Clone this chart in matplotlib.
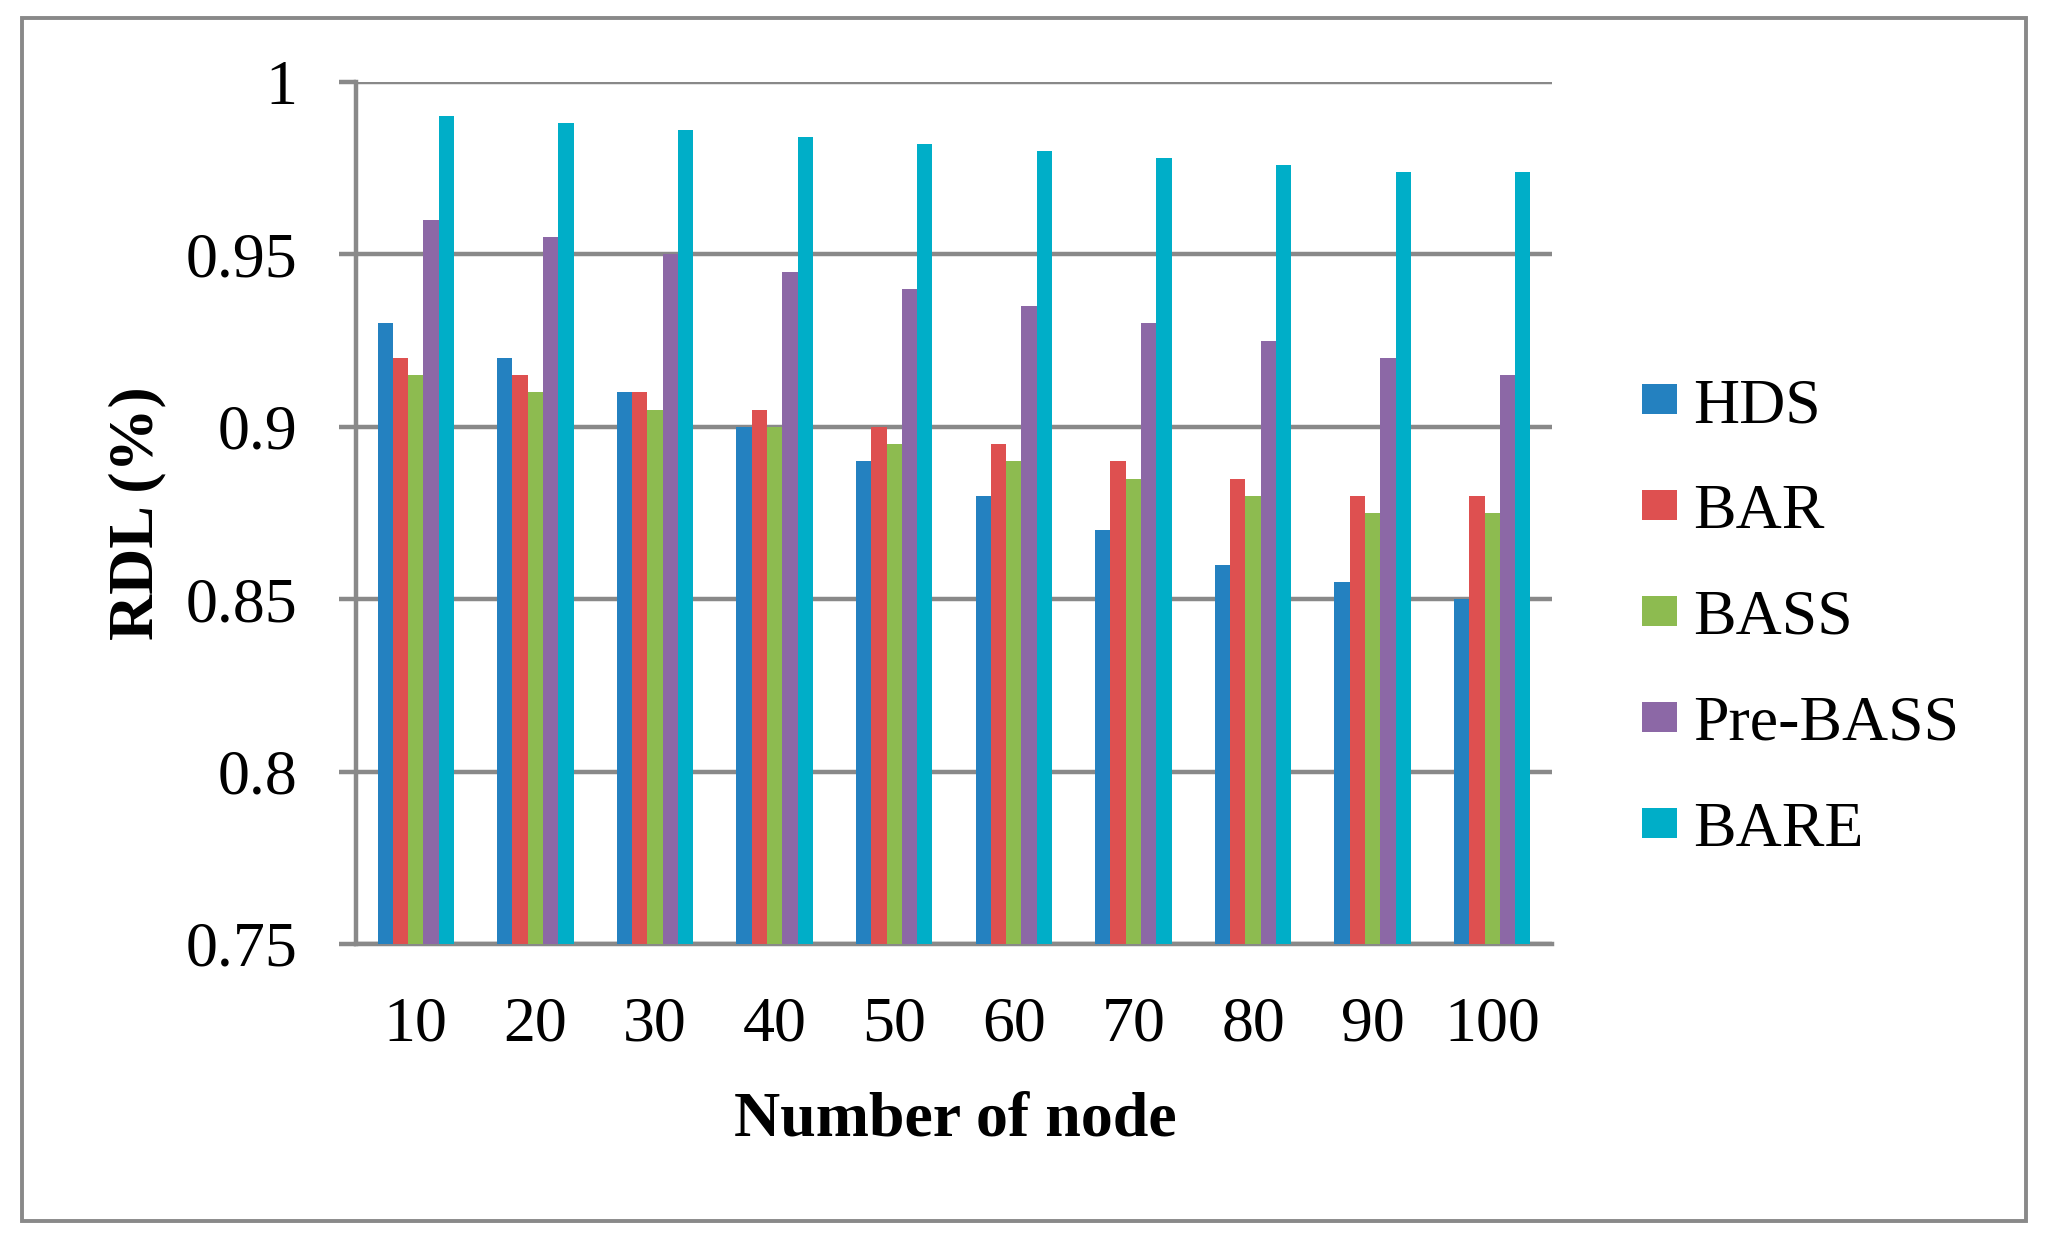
import matplotlib
matplotlib.use("Agg")
import matplotlib.pyplot as plt
from matplotlib.patches import Rectangle, Patch
import numpy as np

categories = ["10", "20", "30", "40", "50", "60", "70", "80", "90", "100"]
series_names = ["HDS", "BAR", "BASS", "Pre-BASS", "BARE"]
hds = [0.93, 0.92, 0.91, 0.90, 0.89, 0.88, 0.87, 0.86, 0.855, 0.85]
bar = [0.92, 0.915, 0.91, 0.905, 0.90, 0.895, 0.89, 0.885, 0.88, 0.88]
bass = [0.915, 0.91, 0.905, 0.90, 0.895, 0.89, 0.885, 0.88, 0.875, 0.875]
pre_bass = [0.96, 0.955, 0.95, 0.945, 0.94, 0.935, 0.93, 0.925, 0.92, 0.915]
bare = [0.99, 0.988, 0.986, 0.984, 0.982, 0.98, 0.978, 0.976, 0.974, 0.974]
yticks = [0.75, 0.8, 0.85, 0.9, 0.95, 1.0]
ytick_labels = ["0.75", "0.8", "0.85", "0.9", "0.95", "1"]

colors = ["#2481C0", "#DE5050", "#8DBB50", "#8C68A6", "#00AEC8"]
grid_gray = "#898989"

plt.rcParams['font.family'] = ['Liberation Serif', 'DejaVu Serif']

W, H = 2047, 1244
fig = plt.figure(figsize=(W / 100, H / 100), dpi=100)

# outer border
fig.patches.append(Rectangle((22 / W, 1 - 1221 / H), (2026 - 22) / W, (1221 - 18) / H,
                             transform=fig.transFigure, fill=False,
                             edgecolor=grid_gray, linewidth=2.8))

left, right, top, bottom = 356, 1552, 82, 944
ax = fig.add_axes([left / W, 1 - bottom / H, (right - left) / W, (bottom - top) / H])

x = np.arange(len(categories))
w = 0.128
all_series = [hds, bar, bass, pre_bass, bare]
for j, (vals, name, c) in enumerate(zip(all_series, series_names, colors)):
    ax.bar(x + (j - 2) * w, vals, width=w, color=c, label=name, zorder=3, linewidth=0)

ax.set_xlim(-0.5, len(categories) - 0.5)
ax.set_ylim(0.75, 1.0)
ax.set_yticks(yticks)
ax.set_yticklabels(ytick_labels)
ax.set_xticks(x)
ax.set_xticklabels(categories)

ax.grid(axis='y', color=grid_gray, linewidth=3.2, zorder=0)
ax.set_axisbelow(True)
for s in ['top', 'right']:
    ax.spines[s].set_visible(False)
for s in ['left', 'bottom']:
    ax.spines[s].set_color(grid_gray)
    ax.spines[s].set_linewidth(3.2)

ax.tick_params(axis='y', direction='out', length=12, width=3.2, color=grid_gray,
               labelsize=46, pad=30)
ax.tick_params(axis='x', length=0, labelsize=46, pad=38)

fig.text(955 / W, 1 - 1120 / H, "Number of node", ha='center', va='center',
         fontsize=46, fontweight='bold')
fig.text(137 / W, 1 - 513 / H, "RDL (%)", ha='center', va='center',
         fontsize=46, fontweight='bold', rotation=90)

handles = [Patch(facecolor=c, edgecolor='none') for c in colors]
fig.legend(handles, series_names, loc='center left',
           bbox_to_anchor=(1642 / W, 1 - 619 / H), frameon=False,
           fontsize=46, handlelength=0.55, handleheight=0.34,
           handletextpad=0.25, labelspacing=0.75, borderpad=0, borderaxespad=0)

fig.savefig("out.png", dpi=100)
